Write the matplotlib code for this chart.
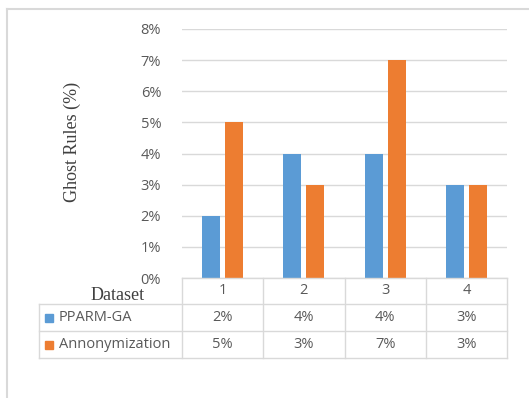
import matplotlib
matplotlib.use("Agg")
import matplotlib.pyplot as plt
import numpy as np

categories = ["1", "2", "3", "4"]
series_names = ["PPARM-GA", "Annonymization"]
pparm_ga = [2, 4, 4, 3]
annonymization = [5, 3, 7, 3]
y_ticks = [0, 1, 2, 3, 4, 5, 6, 7, 8]
colors = ["#5B9BD5", "#ED7D31"]

W, H = 529, 398
fig = plt.figure(figsize=(W / 100, H / 100), dpi=100)
fig.patch.set_facecolor("white")

def fx(px):
    return px / W

def fy(py):
    return 1 - py / H

# plot area in pixel coordinates
L, R, T, B = 182, 507, 29, 278
ax = fig.add_axes([fx(L), fy(B), fx(R) - fx(L), fy(T) - fy(B)])
n = len(categories)
x = np.arange(n)
bw = 0.222
off = 0.142
values = [pparm_ga, annonymization]
for i, (vals, c) in enumerate(zip(values, colors)):
    ax.bar(x + (off if i else -off), vals, width=bw, color=c, zorder=3)
ax.set_xlim(-0.5, n - 0.5)
ax.set_ylim(0, 8)
ax.set_yticks(y_ticks)
ax.set_yticklabels([f"{t}%" for t in y_ticks])
ax.set_xticks([])
ax.grid(axis="y", color="#D9D9D9", linewidth=1, zorder=0)
for s in ax.spines.values():
    s.set_visible(False)
ax.tick_params(axis="y", length=0, pad=15, labelsize=10.5, labelcolor="#595959")
for lab in ax.get_yticklabels():
    lab.set_fontfamily("Open Sans")

# outer frame (top and left edges)
line_kw = dict(transform=fig.transFigure, color="#D9D9D9", linewidth=1.5)
fig.add_artist(plt.Line2D([fx(7), 1], [fy(8.5), fy(8.5)], **line_kw))
fig.add_artist(plt.Line2D([fx(7), fx(7)], [fy(8.5), 0], **line_kw))

# data table below the axis
tl = dict(transform=fig.transFigure, color="#D9D9D9", linewidth=1)
col_x = np.linspace(L, R, n + 1)
rows_y = [278, 304, 331, 358]
fig.add_artist(plt.Line2D([fx(L), fx(R)], [fy(rows_y[0])] * 2, **tl))
for yy in rows_y[1:]:
    fig.add_artist(plt.Line2D([fx(39), fx(R)], [fy(yy)] * 2, **tl))
fig.add_artist(plt.Line2D([fx(39), fx(39)], [fy(rows_y[1]), fy(rows_y[3])], **tl))
for cx in col_x:
    fig.add_artist(plt.Line2D([fx(cx), fx(cx)], [fy(rows_y[0]), fy(rows_y[3])], **tl))

txt_kw = dict(fontsize=10.5, color="#595959", family="Open Sans", va="center", ha="center")
for j, cat in enumerate(categories):
    cx = (col_x[j] + col_x[j + 1]) / 2
    fig.text(fx(cx), fy((rows_y[0] + rows_y[1]) / 2), cat, **txt_kw)
    for r, vals in enumerate(values):
        fig.text(fx(cx), fy((rows_y[r + 1] + rows_y[r + 2]) / 2), f"{vals[j]}%", **txt_kw)

for r, (name, c) in enumerate(zip(series_names, colors)):
    yc = (rows_y[r + 1] + rows_y[r + 2]) / 2
    fig.add_artist(plt.Rectangle((fx(45), fy(yc + 4)), fx(8), fy(0) - fy(8),
                                 transform=fig.transFigure, color=c))
    fig.text(fx(59), fy(yc), name, fontsize=10.5, color="#595959",
             family="Open Sans", va="center", ha="left")

serif_kw = dict(family="Liberation Serif", color="#404040")
fig.text(fx(118), fy(296), "Dataset", fontsize=13, ha="center", va="center", **serif_kw)
fig.text(fx(72), fy(142), "Ghost Rules (%)", fontsize=13, rotation=90,
         ha="center", va="center", **serif_kw)

fig.savefig("out.png", dpi=100)
